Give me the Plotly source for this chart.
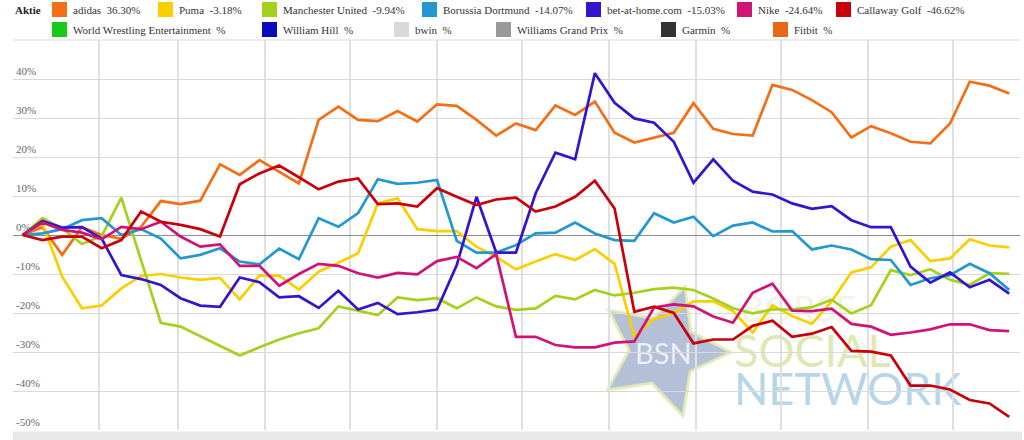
import math
import pandas as pd
import plotly.graph_objects as go

# weekly closes, % change vs. first week
dates = pd.date_range("2015-01-05", periods=51, freq="7D")

adidas = [0, 2, -5.1, 2, 0, -1, 2.1, 8.7, 7.9, 8.8, 18.1, 15.4, 19.2, 16.2, 13.2, 29.5, 32.9,
          29.5, 29.2, 31.8, 29.1, 33.5, 33.1, 29.5, 25.5, 28.6, 26.9, 33.2, 30.8, 34.2, 26.2,
          23.7, 25, 26.2, 33.8, 27.2, 25.9, 25.5, 38.5, 37.2, 34.6, 31.5, 25, 27.9, 26.1, 23.9,
          23.5, 28.6, 39.3, 38.3, 36.3]
puma = [0, 3, -10.7, -18.8, -18.1, -13.7, -10.5, -10, -10.9, -11.5, -11, -16.5, -10.4, -10.4,
        -14, -9.4, -7.1, -4.7, 8.1, 9.4, 1.5, 1, 1, -3, -5.6, -8.8, -6.8, -4.9, -6.4, -3.6, -7.4,
        -26, -21.5, -20, -17, -17, -19.5, -25, -18, -20.8, -22.8, -17, -9.6, -8.3, -3, -1.3,
        -6.7, -6, -1.1, -2.7, -3.18]
man_utd = [0, 4.3, 1.7, -2.3, -0.3, 9.6, -6.5, -22.5, -23.5, -26, -28.5, -30.9, -28.8, -26.8,
           -25.2, -23.9, -18.3, -19.4, -20.5, -16, -16.7, -16.2, -18.8, -16, -18.3, -19.2, -18.8,
           -15.6, -16.5, -14.1, -15.5, -14.8, -13.9, -13.5, -14.1, -16.3, -18.8, -20.1, -19.1,
           -19.1, -18.5, -16.6, -20.1, -18, -9, -10.3, -8.8, -11.5, -12.8, -9.8, -9.94]
bvb = [0, 0.4, 1.5, 3.8, 4.3, 0, 1.5, -0.9, -6, -5.1, -3.4, -6.8, -7.5, -3.5, -6.2, 4.3, 2.1,
       5.6, 14.3, 13.1, 13.4, 14.1, -1.5, -4.5, -4.5, -2.6, 0.4, 0.6, 3.2, 0.4, -1.3, -1.5, 5.6,
       3.2, 4.7, -0.3, 2.4, 3.2, 0.9, 1, -3.7, -2.7, -3.7, -6.2, -6.4, -12.8, -11.1, -10.3, -7.4,
       -9.8, -14.07]
bet_at_home = [0, 3.6, 1.9, 2, -0.9, -10.3, -11.3, -12.8, -16.2, -18.1, -18.4, -10.9, -12.1, -16,
               -15.7, -18.7, -14.3, -19.1, -17.4, -20.3, -19.8, -19.1, -7.7, 9.8, -4.5, -4.5,
               10.7, 21.1, 19.4, 41.5, 33.9, 29.9, 28.8, 23.9, 13.4, 19.4, 13.9, 11.1, 10.4, 8.1,
               6.7, 7.4, 3.8, 2, 2, -8.1, -12.2, -9.6, -13.4, -11.5, -15.03]
nike = [0, 3.2, 1.3, 0.6, -1.1, 2.1, 1.5, 3.4, -0.4, -3, -2.4, -7.9, -7.9, -13, -10, -7.4, -7.9,
        -9.8, -10.9, -9.7, -10.1, -6.7, -5.6, -8.5, -4.9, -26.1, -26.1, -28.2, -28.8, -28.8,
        -27.6, -27.3, -18.6, -17.8, -18.3, -20.9, -22.5, -14.8, -12.5, -19.4, -19.5, -18.9,
        -22.8, -23.5, -25.6, -25, -24.2, -22.9, -22.9, -24.4, -24.64]
callaway = [0, -1.3, -0.4, -0.4, -3.4, -1.3, 6, 3.4, 2.6, 1.5, -0.4, 13, 15.8, 17.8, 14.8, 11.7,
            13.7, 14.5, 7.9, 8.1, 7.3, 12, 9.8, 7.7, 9.1, 9.6, 6, 7.3, 9.8, 13.9, 6.8, -19.7,
            -18.4, -20, -27.8, -26.8, -26.8, -23.3, -22, -26.1, -25.3, -23.6, -29.7, -29.9,
            -30.9, -38.6, -38.6, -39.6, -42.3, -43.2, -46.62]

series_names = ["adidas", "Puma", "Manchester United", "Borussia Dortmund",
                "bet-at-home.com", "Nike", "Callaway Golf"]
series_values = [adidas, puma, man_utd, bvb, bet_at_home, nike, callaway]
series_changes = ["36.30", "-3.18", "-9.94", "-14.07", "-15.03", "-24.64", "-46.62"]
series_colors = ["#f36f17", "#f9cf00", "#a4d11c", "#2497d1", "#3414cc", "#cf1478", "#c8000a"]

extra_names = ["World Wrestling Entertainment", "William Hill", "bwin",
               "Williams Grand Prix", "Garmin", "Fitbit"]
extra_colors = ["#19c819", "#0a0ac0", "#d9d9d9", "#999999", "#333333", "#e8681a"]

y_ticks = [-50, -40, -30, -20, -10, 0, 10, 20, 30, 40]

# pixel geometry of the plot area
W, H = 1024, 440
PL, PR, PT, PB = 13, 1020, 40, 430


def px_x(px):
    return (px - PL) / (PR - PL)


def px_y(py):
    return (PB - py) / (PB - PT)


# x range so first/last week sit where they do in the original
first_px, last_px = 22.7, 1009.2
span_days = (dates[-1] - dates[0]) / pd.Timedelta(days=1)
px_per_day = (last_px - first_px) / span_days
x_start = dates[0] - pd.Timedelta(days=(first_px - PL) / px_per_day)
x_end = dates[-1] + pd.Timedelta(days=(PR - last_px) / px_per_day)

fig = go.Figure()
for name, vals, color in zip(series_names, series_values, series_colors):
    fig.add_trace(go.Scatter(
        x=dates, y=vals, mode="lines", name=name,
        line=dict(color=color, width=2.7),
        showlegend=False,
    ))

shapes = []
annotations = []

# watermark star
cx, cy, R, r = 663, 351, 68, 34
pts = []
for k in range(10):
    ang = math.radians(-71 + 36 * k)
    rad = R if k % 2 == 0 else r
    pts.append((cx + rad * math.cos(ang), cy + rad * math.sin(ang)))
star_path = "M " + " L ".join(f"{px_x(x):.5f},{px_y(y):.5f}" for x, y in pts) + " Z"
shapes.append(dict(type="path", path=star_path, xref="paper", yref="paper",
                   fillcolor="rgba(160,176,206,0.8)",
                   line=dict(color="rgba(226,236,180,0.9)", width=3), layer="below"))


def wm_text(text, x0, x1, y0, y1, size, color):
    shapes.append(dict(type="rect", xref="paper", yref="paper",
                       x0=px_x(x0), x1=px_x(x1), y0=px_y(y1), y1=px_y(y0),
                       fillcolor="rgba(0,0,0,0)", line=dict(width=0), layer="below",
                       label=dict(text=text, textposition="middle left", padding=0,
                                  font=dict(family="Lato", size=size, color=color))))


wm_text("BSN", 632, 700, 338, 366, 29, "rgba(240,244,250,0.95)")
wm_text("BÖRSE", 738, 880, 294, 322, 36, "rgba(225,232,200,0.45)")
wm_text("SOCIAL", 731, 900, 330, 368, 45, "rgba(218,228,168,0.85)")
wm_text("NETWORK", 731, 960, 368, 406, 45, "rgba(170,206,228,0.85)")

# bottom grey band and top border line
shapes.append(dict(type="rect", xref="paper", yref="paper",
                   x0=0, x1=px_x(1022), y0=px_y(440), y1=px_y(431.5),
                   fillcolor="#e8e8e8", line=dict(width=0), layer="below"))
shapes.append(dict(type="line", xref="paper", yref="paper",
                   x0=0, x1=1, y0=1, y1=1, line=dict(color="#d9d9d9", width=1)))

# custom legend
LEG_FONT = "Liberation Serif"
annotations.append(dict(text="<b>Aktie</b>", xref="paper", yref="paper",
                        x=px_x(13), y=px_y(10), xanchor="left", yanchor="middle",
                        showarrow=False, font=dict(family=LEG_FONT, size=11, color="#222")))

row1_x = [52, 158, 262, 422, 586, 737, 836]
row2_x = [52, 262, 394, 496, 661, 773]
rows = [
    (9.5, row1_x, [f"{n}\u00a0 {c}%" for n, c in zip(series_names, series_changes)], series_colors),
    (29.5, row2_x, [f"{n}\u00a0 %" for n in extra_names], extra_colors),
]
for ry, xs, labels, colors in rows:
    for sx, label, color in zip(xs, labels, colors):
        shapes.append(dict(type="rect", xref="paper", yref="paper",
                           x0=px_x(sx), x1=px_x(sx + 15), y0=px_y(ry + 7.5), y1=px_y(ry - 7.5),
                           fillcolor=color, line=dict(width=0)))
        annotations.append(dict(text=label, xref="paper", yref="paper",
                                x=px_x(sx + 19), y=px_y(ry + 0.5), xanchor="left",
                                yanchor="middle", showarrow=False,
                                font=dict(family=LEG_FONT, size=11, color="#333")))

fig.update_layout(
    width=W, height=H,
    margin=dict(l=PL, r=W - PR, t=PT, b=H - PB),
    paper_bgcolor="white",
    plot_bgcolor="white",
    showlegend=False,
    hovermode=False,
    shapes=shapes,
    annotations=annotations,
    xaxis=dict(
        type="date", range=[x_start, x_end],
        dtick="M1", tick0="2015-01-01",
        showgrid=True, gridcolor="#e0e0e0", gridwidth=1.5,
        showticklabels=False, zeroline=False, showline=False, ticks="",
    ),
    yaxis=dict(
        range=[-50, 50], tickvals=y_ticks, ticktext=[f"{v}%" for v in y_ticks],
        ticklabelposition="inside top",
        tickfont=dict(family=LEG_FONT, size=11, color="#666"),
        showgrid=True, gridcolor="#d9d9d9", gridwidth=1,
        zeroline=True, zerolinecolor="#8c8c8c", zerolinewidth=1,
        showline=False, ticks="",
    ),
)

fig.write_html("out.html", config={"displayModeBar": False},
               post_script="document.body.style.margin='0';")
